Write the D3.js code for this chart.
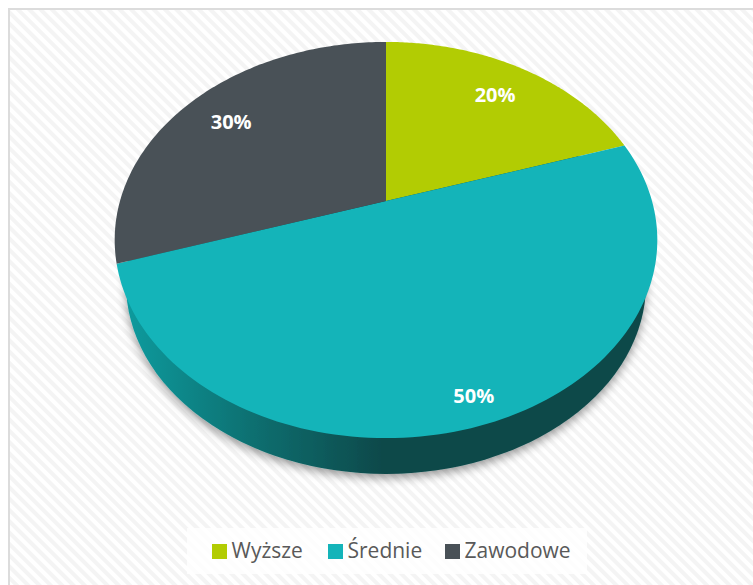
<!DOCTYPE html>
<html lang="pl">
<head>
  <meta charset="UTF-8">
  <title>Wykształcenie</title>
  <script src="https://d3js.org/d3.v7.min.js"></script>
  <style>
    body { margin: 0; background: #fff; font-family: "Open Sans", sans-serif; }
    svg { display: block; }
  </style>
</head>
<body>
  <svg width="753" height="585"></svg>
  <script>
    const categories = ["Wyższe", "Średnie", "Zawodowe"];
    const shares = [20, 50, 30];
    const colors = ["#b2cc03", "#14b4b9", "#495157"];

    const svg = d3.select("svg");
    const defs = svg.append("defs");

    // tlo w ukosne paski
    const stripes = defs.append("pattern")
      .attr("id", "stripes")
      .attr("width", 8).attr("height", 8)
      .attr("patternUnits", "userSpaceOnUse")
      .attr("patternTransform", "rotate(45)");
    stripes.append("rect").attr("width", 8).attr("height", 8).attr("fill", "#fff");
    stripes.append("rect").attr("width", 8).attr("height", 4).attr("fill", "#f4f4f4");

    const wallGradient = defs.append("linearGradient")
      .attr("id", "wall")
      .attr("gradientUnits", "userSpaceOnUse")
      .attr("x1", 128).attr("x2", 386).attr("y1", 0).attr("y2", 0);
    wallGradient.append("stop").attr("offset", 0).attr("stop-color", "#119a9d");
    wallGradient.append("stop").attr("offset", 0.5).attr("stop-color", "#0d6e6f");
    wallGradient.append("stop").attr("offset", 1).attr("stop-color", "#0a4849");

    const shadow = defs.append("filter")
      .attr("id", "shadow")
      .attr("x", "-10%").attr("y", "-10%").attr("width", "120%").attr("height", "125%");
    shadow.append("feDropShadow")
      .attr("dx", 0).attr("dy", 4).attr("stdDeviation", 5)
      .attr("flood-color", "#000").attr("flood-opacity", 0.4);

    svg.append("rect")
      .attr("x", 9).attr("y", 9).attr("width", 760).attr("height", 590)
      .attr("fill", "url(#stripes)")
      .attr("stroke", "#dcdcdc").attr("stroke-width", 2);

    // tarcza w perspektywie: srodek kola nie lezy w srodku elipsy
    const cx = 386, cy = 201, radiusX = 266, radiusY = 190.4, tilt = 0.197;
    function project(angle, f = 1) {
      const u = Math.sin(angle) * f, v = Math.cos(angle) * f;
      const w = 1 + tilt * v;
      return [cx + radiusX * u / w, cy - radiusY * v / w];
    }

    const pie = d3.pie().sort(null)(shares);
    const line = d3.line();

    // dolna krawedz walca
    svg.append("ellipse")
      .attr("cx", 386).attr("cy", 284)
      .attr("rx", 260).attr("ry", 190)
      .attr("fill", "url(#wall)")
      .attr("filter", "url(#shadow)");

    svg.selectAll("path.slice")
      .data(pie)
      .enter()
      .append("path")
      .attr("class", "slice")
      .attr("fill", (d, i) => colors[i])
      .attr("d", d => {
        const steps = d3.range(0, 121).map(i => d.startAngle + (d.endAngle - d.startAngle) * i / 120);
        return line([[cx, cy], ...steps.map(a => project(a))]) + "Z";
      });

    svg.selectAll("text.share")
      .data(pie)
      .enter()
      .append("text")
      .attr("class", "share")
      .attr("transform", d => {
        const p = project((d.startAngle + d.endAngle) / 2, d.value >= 50 ? 0.89 : 0.785);
        return `translate(${p[0]},${p[1] + 1})`;
      })
      .attr("text-anchor", "middle")
      .attr("dominant-baseline", "central")
      .attr("fill", "#fff")
      .attr("font-size", 20)
      .attr("font-weight", 700)
      .text(d => `${d.value}%`);

    // legenda
    svg.append("rect")
      .attr("x", 187).attr("y", 528).attr("width", 400).attr("height", 46)
      .attr("fill", "#fff").attr("fill-opacity", 0.8);

    const legendX = d3.scaleOrdinal().domain(categories).range([212, 328, 445]);
    const legend = svg.selectAll("g.legend")
      .data(categories)
      .enter()
      .append("g")
      .attr("class", "legend")
      .attr("transform", d => `translate(${legendX(d)},544)`);
    legend.append("rect")
      .attr("width", 15).attr("height", 15)
      .attr("fill", (d, i) => colors[i]);
    legend.append("text")
      .attr("x", 19.5).attr("y", 14)
      .attr("fill", "#595959")
      .attr("font-size", 21)
      .text(d => d);
  </script>
</body>
</html>
